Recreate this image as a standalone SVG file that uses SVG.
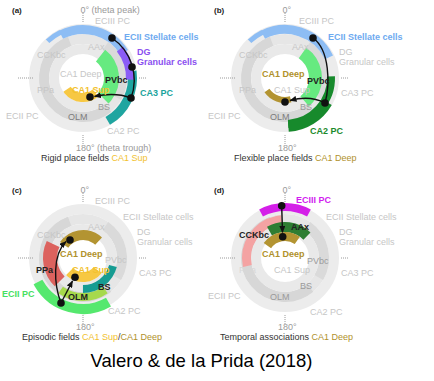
<svg xmlns="http://www.w3.org/2000/svg" xmlns:xlink="http://www.w3.org/1999/xlink" width="434" height="381" viewBox="0 0 434 381">
<style>
text{font-family:"Liberation Sans",Arial,Helvetica,sans-serif;font-size:9px}
.b{font-weight:bold}
.lg{fill:#c6c6c6}
.mg{fill:#9a9a9a}
.og{fill:#7c7c7c}
.dk{fill:#222}
.cap{fill:#333}
.arc{fill:none}
.tick{stroke:#9a9a9a;stroke-width:1;stroke-dasharray:1 1;fill:none}
.con{stroke:#111;stroke-width:1.4;fill:none}
.dot{fill:#111}
.blue{stroke:#8dbdf4}.tblue{fill:#6eaaf0}
.purp{stroke:#8b5cf6}.tpurp{fill:#8a4ff0}
.teal{stroke:#1fa5a0}.tteal{fill:#1ba39c}
.pv{stroke:#66ea80}
.yel{stroke:#f7c843}.tyel{fill:#f2c12e}
.oli{stroke:#b39432}.toli{fill:#b0912b}
.ca2{stroke:#178a2c}.tca2{fill:#1c8a2c}
.ec2{stroke:#55e86e}.tec2{fill:#47e060}
.ppa{stroke:#dc625e}
.olm{stroke:#a6d94c}
.bs{stroke:#169c92}
.mag{stroke:#d41fe8}.tmag{fill:#d21cf0}
.cck{stroke:#f4a3a3}
.aax{stroke:#2e7d32}
</style>
<defs>
<marker id="ah" markerWidth="7" markerHeight="6" refX="6.5" refY="3" orient="auto" markerUnits="userSpaceOnUse"><path d="M0,0 L7,3 L0,6 z" fill="#111"/></marker>
<g id="base">
<circle cx="83" cy="78" r="49" fill="none" stroke="#ececec" stroke-width="10"/>
<circle cx="83" cy="78" r="39" fill="none" stroke="#e6e6e6" stroke-width="10"/>
<circle cx="83" cy="78" r="39" fill="none" stroke="#d7d7d7" stroke-width="10" pathLength="360" stroke-dasharray="200 400" transform="rotate(50 83 78)"/>
<circle cx="83" cy="78" r="39" fill="none" stroke="#dadada" stroke-width="10" pathLength="360" stroke-dasharray="85 400" transform="rotate(-55 83 78)"/>
<circle cx="83" cy="78" r="29" fill="none" stroke="#e9e9e9" stroke-width="10"/>
<path class="tick" d="M18,78H34 M139,78H147 M83,13V23 M83,135V144"/>
</g>
</defs>

<!-- Panel (a) -->
<g id="panel-a">
<use xlink:href="#base" href="#base"/>
<g id="a-arcs">
<circle cx="83" cy="78" r="51" class="arc blue" stroke-width="5" pathLength="360" stroke-dasharray="18 400" transform="rotate(-134 83 78)"/>
<circle cx="83" cy="78" r="48.5" class="arc blue" stroke-width="9" pathLength="360" stroke-dasharray="85 400" transform="rotate(-117 83 78)"/>
<circle cx="83" cy="78" r="49.5" class="arc teal" stroke-width="9" pathLength="360" stroke-dasharray="68 400" transform="rotate(-8 83 78)"/>
<circle cx="83" cy="78" r="47" class="arc purp" stroke-width="8" pathLength="360" stroke-dasharray="40 400" transform="rotate(-38 83 78)"/>
<circle cx="83" cy="78" r="28.5" class="arc pv" stroke-width="15" pathLength="360" stroke-dasharray="97 400" transform="rotate(-52 83 78)"/>
<circle cx="83" cy="78" r="19.5" class="arc yel" stroke-width="9" pathLength="360" stroke-dasharray="95 400" transform="rotate(50 83 78)"/>
</g>
<g id="a-connectors">
<path class="con" d="M112,38 A51,51 0 0 1 131,98"/>
<path class="con" d="M131,98 Q115,92 94.5,96.5" marker-end="url(#ah)"/>
<circle class="dot" cx="112" cy="38" r="3.8"/>
<circle class="dot" cx="132" cy="67" r="3.8"/>
<circle class="dot" cx="131" cy="98" r="3.8"/>
<circle class="dot" cx="90" cy="97" r="3.8"/>
</g>
<g id="a-labels">
<text x="12" y="13" class="b dk" style="font-size:8px">(a)</text>
<text x="80.5" y="12.5" class="mg">0° (theta peak)</text>
<text x="95" y="24" class="lg">ECIII PC</text>
<text x="124" y="40" class="b tblue">ECII Stellate cells</text>
<text x="137" y="55" class="b tpurp">DG</text>
<text x="137" y="64.5" class="b tpurp">Granular cells</text>
<text x="37" y="58" class="lg">CCKbc</text>
<text x="88" y="50" class="lg">AAx</text>
<text x="60" y="76.5" class="lg">CA1 Deep</text>
<text x="105" y="83" class="b dk">PVbc</text>
<text x="37" y="93" class="lg">PPa</text>
<text x="72" y="93" class="b tyel">CA1 Sup</text>
<text x="140" y="96" class="b tteal">CA3 PC</text>
<text x="98" y="110" class="mg">BS</text>
<text x="6" y="119" class="lg">ECII PC</text>
<text x="68" y="120" class="og">OLM</text>
<text x="107" y="134" class="lg">CA2 PC</text>
<text x="76" y="150.5" class="mg">180° (theta trough)</text>
<text x="41" y="160.5" class="cap">Rigid place fields <tspan class="tyel">CA1 Sup</tspan></text>
</g>
</g>

<!-- Panel (b) -->
<g id="panel-b" transform="translate(202,0)">
<use xlink:href="#base" href="#base"/>
<g id="b-arcs">
<circle cx="83" cy="78" r="51" class="arc blue" stroke-width="5" pathLength="360" stroke-dasharray="18 400" transform="rotate(-134 83 78)"/>
<circle cx="83" cy="78" r="48.5" class="arc blue" stroke-width="9" pathLength="360" stroke-dasharray="92 400" transform="rotate(-117 83 78)"/>
<circle cx="83" cy="78" r="30.5" class="arc pv" stroke-width="13" pathLength="360" stroke-dasharray="105 400" transform="rotate(-55 83 78)"/>
<circle cx="83" cy="78" r="46" class="arc ca2" stroke-width="8" pathLength="360" stroke-dasharray="88 400" transform="rotate(-2 83 78)"/>
<circle cx="83" cy="78" r="48.5" class="arc ca2" stroke-width="11" pathLength="360" stroke-dasharray="56 400" transform="rotate(30 83 78)"/>
<circle cx="83" cy="78" r="22" class="arc oli" stroke-width="6" pathLength="360" stroke-dasharray="70 400" transform="rotate(75 83 78)"/>
</g>
<g id="b-connectors">
<path class="con" d="M111,38 C128,50 128,85 123,103"/>
<path class="con" d="M123,103 Q108,95 88,100.5" marker-end="url(#ah)"/>
<circle class="dot" cx="111" cy="38" r="3.8"/>
<circle class="dot" cx="123" cy="103" r="3.8"/>
<circle class="dot" cx="83" cy="102" r="3.8"/>
</g>
<g id="b-labels">
<text x="12" y="13" class="b dk" style="font-size:8px">(b)</text>
<text x="80.5" y="12.5" class="mg">0°</text>
<text x="97" y="24" class="lg">ECIII PC</text>
<text x="126" y="39.5" class="b tblue">ECII Stellate cells</text>
<text x="137" y="55" class="lg">DG</text>
<text x="137" y="64.5" class="lg">Granular cells</text>
<text x="37" y="58" class="lg">CCKbc</text>
<text x="90" y="50" class="lg">AAx</text>
<text x="60" y="76.5" class="b toli">CA1 Deep</text>
<text x="105" y="84" class="b dk">PVbc</text>
<text x="37" y="93" class="lg">PPa</text>
<text x="72" y="93" class="lg">CA1 Sup</text>
<text x="139" y="96" class="lg">CA3 PC</text>
<text x="98" y="110" class="mg">BS</text>
<text x="6" y="118.5" class="lg">ECII PC</text>
<text x="68" y="120" class="og">OLM</text>
<text x="108" y="134" class="b tca2">CA2 PC</text>
<text x="76" y="150.5" class="mg">180°</text>
<text x="32" y="161" class="cap">Flexible place fields <tspan class="toli">CA1 Deep</tspan></text>
</g>
</g>

<!-- Panel (c) -->
<g id="panel-c" transform="translate(0,180)">
<use xlink:href="#base" href="#base"/>
<g id="c-arcs">
<circle cx="83" cy="78" r="51" class="arc ec2" stroke-width="10" pathLength="360" stroke-dasharray="92 400" transform="rotate(60 83 78)"/>
<circle cx="83" cy="78" r="33" class="arc ppa" stroke-width="14" pathLength="360" stroke-dasharray="70 400" transform="rotate(135 83 78)"/>
<circle cx="83" cy="78" r="39" class="arc olm" stroke-width="8" pathLength="360" stroke-dasharray="70 400" transform="rotate(55 83 78)"/>
<circle cx="83" cy="78" r="31" class="arc bs" stroke-width="8" pathLength="360" stroke-dasharray="75 400" transform="rotate(15 83 78)"/>
<circle cx="83" cy="78" r="19" class="arc yel" stroke-width="10" pathLength="360" stroke-dasharray="95 400" transform="rotate(40 83 78)"/>
<circle cx="83" cy="78" r="23" class="arc oli" stroke-width="10" pathLength="360" stroke-dasharray="98 400" transform="rotate(-145 83 78)"/>
</g>
<g id="c-connectors">
<path class="con" d="M61,123 C54,105 52,75 66,61.5" marker-end="url(#ah)"/>
<path class="con" d="M61,123 L72.5,101" marker-end="url(#ah)"/>
<circle class="dot" cx="61" cy="123" r="3.8"/>
<circle class="dot" cx="70" cy="60" r="3.8"/>
<circle class="dot" cx="75" cy="97.3" r="3.8"/>
</g>
<g id="c-labels">
<text x="12" y="13" class="b dk" style="font-size:8px">(c)</text>
<text x="80.5" y="12.5" class="mg">0°</text>
<text x="95" y="24" class="lg">ECIII PC</text>
<text x="123" y="40" class="lg">ECII Stellate cells</text>
<text x="137" y="55" class="lg">DG</text>
<text x="137" y="64.5" class="lg">Granular cells</text>
<text x="37" y="58" class="lg">CCKbc</text>
<text x="88" y="50" class="lg">AAx</text>
<text x="60" y="76.5" class="b toli">CA1 Deep</text>
<text x="105" y="83" class="lg">PVbc</text>
<text x="36" y="92.5" class="b dk">PPa</text>
<text x="72" y="93" class="b tyel">CA1 Sup</text>
<text x="139" y="95.5" class="lg">CA3 PC</text>
<text x="98" y="109.5" class="b dk">BS</text>
<text x="2" y="116.5" class="b tec2">ECII PC</text>
<text x="68" y="119.5" class="b dk">OLM</text>
<text x="108" y="134" class="lg">CA2 PC</text>
<text x="76" y="150" class="mg">180°</text>
<text x="22" y="160" class="cap">Episodic fields <tspan class="tyel">CA1 Sup</tspan>/<tspan class="toli">CA1 Deep</tspan></text>
</g>
</g>

<!-- Panel (d) -->
<g id="panel-d" transform="translate(202,180)">
<use xlink:href="#base" href="#base"/>
<g id="d-arcs">
<circle cx="83" cy="78" r="51" class="arc mag" stroke-width="8" pathLength="360" stroke-dasharray="56 400" transform="rotate(-118 83 78)"/>
<circle cx="83" cy="78" r="38.5" class="arc cck" stroke-width="9" pathLength="360" stroke-dasharray="97 400" transform="rotate(168 83 78)"/>
<circle cx="83" cy="78" r="31" class="arc aax" stroke-width="10" pathLength="360" stroke-dasharray="75 400" transform="rotate(-120 83 78)"/>
<circle cx="83" cy="78" r="21.5" class="arc oli" stroke-width="9" pathLength="360" stroke-dasharray="90 400" transform="rotate(-145 83 78)"/>
</g>
<g id="d-connectors">
<path class="con" d="M79.7,26 L80.5,52.5" marker-end="url(#ah)"/>
<circle class="dot" cx="79.7" cy="25.7" r="3.8"/>
<circle class="dot" cx="80.7" cy="56.7" r="3.8"/>
</g>
<g id="d-labels">
<text x="12" y="13" class="b dk" style="font-size:8px">(d)</text>
<text x="80.5" y="12.5" class="mg">0°</text>
<text x="94" y="22.5" class="b tmag">ECIII PC</text>
<text x="124" y="40" class="lg">ECII Stellate cells</text>
<text x="137" y="55" class="lg">DG</text>
<text x="137" y="64.5" class="lg">Granular cells</text>
<text x="37" y="57.5" class="b dk">CCKbc</text>
<text x="89" y="50" class="b dk">AAx</text>
<text x="60" y="76.5" class="b toli">CA1 Deep</text>
<text x="105" y="84" class="mg">PVbc</text>
<text x="37" y="93" fill="#d8d8d8">PPa</text>
<text x="72" y="93" class="lg">CA1 Sup</text>
<text x="139" y="96" class="lg">CA3 PC</text>
<text x="98" y="108.5" class="mg">BS</text>
<text x="6" y="118.5" class="lg">ECII PC</text>
<text x="68" y="119.5" class="mg">OLM</text>
<text x="108" y="135" class="lg">CA2 PC</text>
<text x="76" y="150" class="mg">180°</text>
<text x="18" y="159.5" class="cap">Temporal associations <tspan class="toli">CA1 Deep</tspan></text>
</g>
</g>

<text id="credit" x="201.5" y="367" text-anchor="middle" style="font-size:18.5px" fill="#000">Valero &amp; de la Prida (2018)</text>
</svg>
